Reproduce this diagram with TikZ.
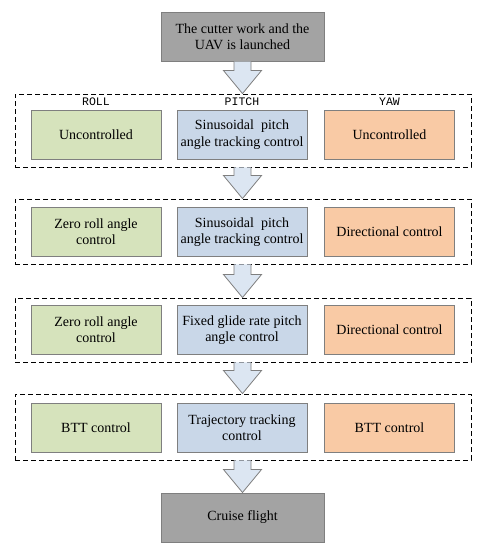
\documentclass[tikz,border=0pt]{standalone}
\usepackage{fontspec}
\setmainfont{Liberation Serif}
\newfontfamily\labfont{Liberation Mono}
\usetikzlibrary{calc}
\definecolor{greyfill}{HTML}{A3A3A3}
\definecolor{greenfill}{HTML}{D6E3BC}
\definecolor{bluefill}{HTML}{C9D7E8}
\definecolor{orangefill}{HTML}{F9CAA5}
\definecolor{arrowfill}{HTML}{DCE6F2}
\definecolor{edgegrey}{HTML}{7F7F7F}
\tikzset{
  box/.style={rectangle, draw=edgegrey, line width=1pt, minimum width=130pt, minimum height=49pt,
    align=center, inner sep=0pt, font=\fontsize{14}{16.4}\selectfont},
  endbox/.style={box, fill=greyfill, minimum width=163pt},
  gbox/.style={box, fill=greenfill},
  bbox/.style={box, fill=bluefill},
  obox/.style={box, fill=orangefill},
  group/.style={rectangle, draw=black, dashed, dash pattern=on 5pt off 3pt, line width=0.9pt,
    minimum width=456pt, inner sep=0pt},
  lab/.style={font=\labfont\fontsize{11.5}{12}\selectfont, inner sep=0pt},
  barrow/.style={draw=edgegrey, fill=arrowfill, line width=0.8pt, line join=miter}
}
\newcommand{\blockarrow}[2]{%
  \filldraw[barrow] let \p1=(#1), \p2=(#2) in
    (\x1-8.5pt,\y1) -- (\x1-8.5pt,\y2+23pt) -- (\x1-19pt,\y2+23pt) -- (\x1,\y2)
    -- (\x1+19pt,\y2+23pt) -- (\x1+8.5pt,\y2+23pt) -- (\x1+8.5pt,\y1);}
\begin{document}
\begin{tikzpicture}[x=1pt,y=-1pt]
\useasboundingbox (0,0) rectangle (485,550);
% top and bottom
\node[endbox] (top) at (242.5,36.5) {The cutter work and the\\UAV is launched};
\node[endbox] (bot) at (242.5,517.5) {Cruise flight};
% groups
\node[group, minimum height=73pt] (d1) at (243,130.5) {};
\node[group, minimum height=65pt] (d2) at (243,231.5) {};
\node[group, minimum height=64pt] (d3) at (243,330) {};
\node[group, minimum height=66pt] (d4) at (243,427) {};
% labels
\node[lab] (lroll) at (96,102) {ROLL};
\node[lab] (lpitch) at (242,102) {PITCH};
\node[lab] (lyaw) at (389.5,102) {YAW};
% row 1
\node[gbox] (r1) at (96,134.5) {Uncontrolled};
\node[bbox] (p1) at (242,134.5) {Sinusoidal\ \ pitch\\angle tracking control};
\node[obox] (y1) at (389.5,134.5) {Uncontrolled};
% row 2
\node[gbox] (r2) at (96,232) {Zero roll angle\\control};
\node[bbox] (p2) at (242,232) {Sinusoidal\ \ pitch\\angle tracking control};
\node[obox] (y2) at (389.5,232) {Directional control};
% row 3
\node[gbox] (r3) at (96,330) {Zero roll angle\\control};
\node[bbox] (p3) at (242,330) {Fixed glide rate pitch\\angle control};
\node[obox] (y3) at (389.5,330) {Directional control};
% row 4
\node[gbox] (r4) at (96,427.5) {BTT control};
\node[bbox] (p4) at (242,427.5) {Trajectory tracking\\control};
\node[obox] (y4) at (389.5,427.5) {BTT control};
% arrows
\blockarrow{top.south}{top.south |- d1.north}
\blockarrow{top.south |- d1.south}{top.south |- d2.north}
\blockarrow{top.south |- d2.south}{top.south |- d3.north}
\blockarrow{top.south |- d3.south}{top.south |- d4.north}
\blockarrow{top.south |- d4.south}{bot.north}
\end{tikzpicture}
\end{document}
